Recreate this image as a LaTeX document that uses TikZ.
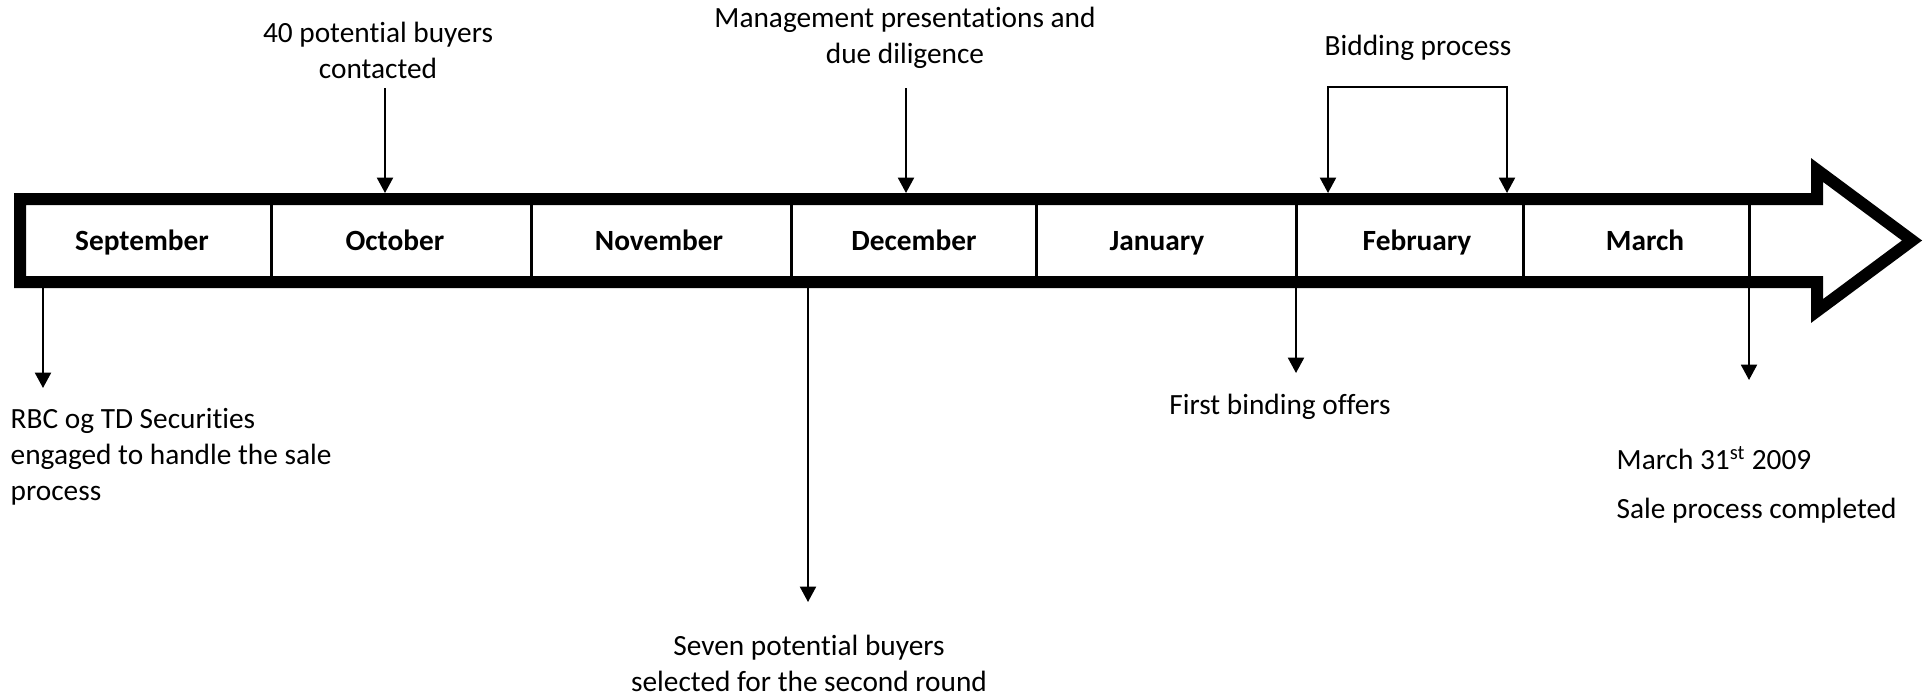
\documentclass[tikz,border=0pt]{standalone}
\usepackage{fontspec}
\setmainfont{Carlito}[Ligatures={NoCommon}]
\usetikzlibrary{arrows.meta}

\begin{document}
\begin{tikzpicture}[x=0.75pt,y=-0.75pt,
        font=\fontsize{22}{27}\selectfont]
    \useasboundingbox (0,0) rectangle (1924,696);

    % big arrow of the timeline
    \draw [line width=9pt] (20,199) -- (1817,199) -- (1817,170) -- (1912,240.5)
        -- (1817,311) -- (1817,282) -- (20,282) -- cycle;

    \begin{scope}[line width=2.25pt]
        \draw (271,203) -- (271,278);
        \draw (531,203) -- (531,278);
        \draw (791,203) -- (791,278);
        \draw (1036,203) -- (1036,278);
        \draw (1296,203) -- (1296,278);
        \draw (1523,203) -- (1523,278);
        \draw (1749,203) -- (1749,278);
    \end{scope}

    \begin{scope}[every node/.style={anchor=base,font=\fontsize{22}{27}\selectfont\bfseries}]
        \node (sep) at (142,250) {September};
        \node (oct) at (395,250) {October};
        \node (nov) at (659,250) {November};
        \node (dec) at (914,250) {December};
        \node (jan) at (1157,250) {January};
        \node (feb) at (1417,250) {February};
        \node (mar) at (1645,250) {March};
    \end{scope}

    % events
    \node [align=center] (buyers) at (378,50) {40 potential buyers\\contacted};
    \node [align=center] (mgmt) at (905,38) {Management presentations and\\due diligence};
    \node (bidding) at (1418,48) {Bidding process};
    \node [align=left, anchor=west] (rbc) at (6,457) {RBC og TD Securities\\engaged to handle the sale\\process};
    \node [align=center] (seven) at (809,663) {Seven potential buyers\\selected for the second round};
    \node (offers) at (1280,407) {First binding offers};
    \node [align=left, anchor=west] (done) at (1612,485)
        {March 31\textsuperscript{st} 2009\\[10pt]Sale process completed};

    \coordinate (buyers1) at (385,88);
    \coordinate (buyers2) at (385,193);
    \coordinate (mgmt1) at (906,88);
    \coordinate (mgmt2) at (906,193);
    \coordinate (bidL) at (1328,193);
    \coordinate (bidLt) at (1328,87);
    \coordinate (bidRt) at (1507,87);
    \coordinate (bidR) at (1507,193);
    \coordinate (rbc1) at (43,288);
    \coordinate (rbc2) at (43,388);
    \coordinate (seven1) at (808,288);
    \coordinate (seven2) at (808,602);
    \coordinate (offers1) at (1296,278);
    \coordinate (offers2) at (1296,373);
    \coordinate (done1) at (1749,278);
    \coordinate (done2) at (1749,380);

    \begin{scope}[>={Triangle[width=12pt,length=11.5pt]},
        every edge/.style={draw=black,line width=1.5pt}]
        \path [->] (buyers1) edge node {} (buyers2);
        \path [->] (mgmt1) edge node {} (mgmt2);
        \path [->] (rbc1) edge node {} (rbc2);
        \path [->] (seven1) edge node {} (seven2);
        \path [->] (offers1) edge node {} (offers2);
        \path [->] (done1) edge node {} (done2);
        \draw [<->, line width=1.5pt] (bidL) -- (bidLt) -- (bidRt) -- (bidR);
    \end{scope}
\end{tikzpicture}
\end{document}
